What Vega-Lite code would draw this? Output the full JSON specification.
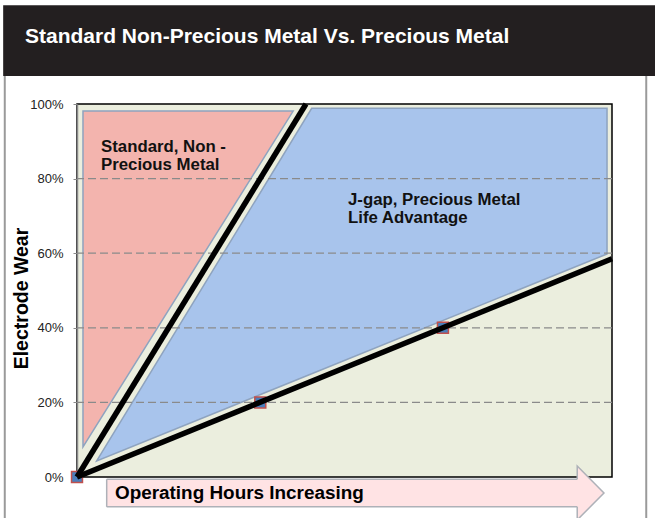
{
  "$schema": "https://vega.github.io/schema/vega-lite/v6.json",
  "width": 535,
  "height": 373,
  "autosize": {"type": "none"},
  "padding": {"left": 77, "top": 104, "right": 43, "bottom": 41},
  "background": "#ffffff",
  "config": {
    "view": {"fill": "#EBEEDE", "stroke": "#000000", "strokeWidth": 1.5},
    "font": "Liberation Sans",
    "axisY": {
      "labelExpr": "datum.value + '%'",
      "grid": false,
      "domain": true,
      "domainColor": "#8a8a8a",
      "domainWidth": 1.5,
      "ticks": true,
      "tickSize": 5,
      "tickColor": "#8a8a8a",
      "tickDash": [4, 2],
      "labelPadding": 9,
      "labelFontSize": 13,
      "labelColor": "#222222",
      "labelFont": "Liberation Sans",
      "titleFont": "Liberation Sans",
      "titleFontSize": 19.5,
      "titleFontWeight": "bold",
      "titleColor": "#000000",
      "titleAngle": -90,
      "titleBaseline": "alphabetic",
      "titleAlign": "center",
      "titleX": -50,
      "titleY": 194
    }
  },
  "datasets": {
    "grid": [{"v": 20}, {"v": 40}, {"v": 60}, {"v": 80}],
    "header": [{"x1": -13.8, "x2": 110, "y1": 107.5, "y2": 126.5}],
    "frame": [{"x": -13.5, "y1": 107.5, "y2": -12}, {"x": 106.4, "y1": 107.5, "y2": -12}],
    "pink": [
      {"x": 1.12, "top": 98.1, "bottom": 8.1},
      {"x": 40.4, "top": 98.1, "bottom": 98.1}
    ],
    "blue": [
      {"x": 3.68, "top": 4.3, "bottom": 4.3},
      {"x": 43.87, "top": 98.85, "bottom": 27.68},
      {"x": 99.07, "top": 98.85, "bottom": 59.8}
    ],
    "markers": [
      {"x": 0, "y": 0},
      {"x": 34.26, "y": 20},
      {"x": 68.4, "y": 40}
    ],
    "lines": [
      {"series": "standard", "x": 0, "y": 0},
      {"series": "standard", "x": 42.8, "y": 100},
      {"series": "precious", "x": 0, "y": 0},
      {"series": "precious", "x": 100, "y": 58.5}
    ],
    "arrowHead": [
      {"x": 93.5, "top": 2.95, "bottom": -11.5},
      {"x": 98.5, "top": -4.3, "bottom": -4.3}
    ],
    "arrowBody": [{"x1": 5.55, "x2": 93.7, "y1": -0.6, "y2": -8.0}],
    "arrowEdges": [
      {"x1": 5.55, "x2": 93.5, "y": -0.6},
      {"x1": 5.55, "x2": 93.5, "y": -8.0}
    ],
    "arrowLeft": [{"x": 5.55, "y1": -0.6, "y2": -8.0}],
    "labels": [
      {"text": "Standard, Non -", "x": 4.49, "y": 87.2},
      {"text": "Precious Metal", "x": 4.49, "y": 82.3},
      {"text": "J-gap, Precious Metal", "x": 50.65, "y": 72.9},
      {"text": "Life Advantage", "x": 50.65, "y": 68.1}
    ],
    "xlabel": [{"text": "Operating Hours Increasing", "x": 7.1, "y": -5.98}],
    "title": [{"text": "Standard Non-Precious Metal Vs. Precious Metal", "x": -9.72, "y": 116.4}]
  },
  "layer": [
    {
      "data": {"name": "header"},
      "mark": {"type": "rect", "color": "#231F20"},
      "encoding": {
        "x": {"field": "x1", "type": "quantitative", "scale": {"domain": [0, 100], "nice": false, "zero": false}, "axis": null},
        "x2": {"field": "x2"},
        "y": {"field": "y1", "type": "quantitative", "scale": {"domain": [0, 100], "nice": false, "zero": false}, "title": "Electrode Wear", "axis": {"values": [0, 20, 40, 60, 80, 100]}},
        "y2": {"field": "y2"}
      }
    },
    {
      "data": {"name": "frame"},
      "mark": {"type": "rule", "color": "#9a9a9a", "strokeWidth": 2},
      "encoding": {
        "x": {"field": "x", "type": "quantitative", "axis": null},
        "y": {"field": "y1", "type": "quantitative", "title": "Electrode Wear", "axis": {"values": [0, 20, 40, 60, 80, 100]}},
        "y2": {"field": "y2"}
      }
    },
    {
      "data": {"name": "pink"},
      "mark": {"type": "area", "fill": "#F3B4AE", "stroke": "#8EA3BF", "strokeWidth": 1.5, "opacity": 1},
      "encoding": {
        "x": {"field": "x", "type": "quantitative", "axis": null},
        "y": {"field": "top", "type": "quantitative", "title": "Electrode Wear", "axis": {"values": [0, 20, 40, 60, 80, 100]}},
        "y2": {"field": "bottom"}
      }
    },
    {
      "data": {"name": "blue"},
      "mark": {"type": "area", "fill": "#A8C4EC", "stroke": "#8EA3BF", "strokeWidth": 1.5, "opacity": 1},
      "encoding": {
        "x": {"field": "x", "type": "quantitative", "axis": null},
        "y": {"field": "top", "type": "quantitative", "title": "Electrode Wear", "axis": {"values": [0, 20, 40, 60, 80, 100]}},
        "y2": {"field": "bottom"}
      }
    },
    {
      "data": {"name": "grid"},
      "mark": {"type": "rule", "color": "#8a8a8a", "strokeWidth": 1.2, "strokeDash": [8, 4]},
      "encoding": {
        "y": {"field": "v", "type": "quantitative", "title": "Electrode Wear", "axis": {"values": [0, 20, 40, 60, 80, 100]}}
      }
    },
    {
      "data": {"name": "markers"},
      "mark": {"type": "point", "shape": "square", "filled": true, "fill": "#4A7EBB", "stroke": "#C0504D", "strokeWidth": 1.5, "size": 120, "opacity": 1},
      "encoding": {
        "x": {"field": "x", "type": "quantitative", "axis": null},
        "y": {"field": "y", "type": "quantitative", "title": "Electrode Wear", "axis": {"values": [0, 20, 40, 60, 80, 100]}}
      }
    },
    {
      "data": {"name": "lines"},
      "mark": {"type": "line", "color": "#000000", "strokeWidth": 5.5, "strokeCap": "butt"},
      "encoding": {
        "x": {"field": "x", "type": "quantitative", "axis": null},
        "y": {"field": "y", "type": "quantitative", "title": "Electrode Wear", "axis": {"values": [0, 20, 40, 60, 80, 100]}},
        "detail": {"field": "series"}
      }
    },
    {
      "data": {"name": "arrowHead"},
      "mark": {"type": "area", "fill": "#FFE3E4", "stroke": "#AEB1B8", "strokeWidth": 1.5, "opacity": 1},
      "encoding": {
        "x": {"field": "x", "type": "quantitative", "axis": null},
        "y": {"field": "top", "type": "quantitative", "title": "Electrode Wear", "axis": {"values": [0, 20, 40, 60, 80, 100]}},
        "y2": {"field": "bottom"}
      }
    },
    {
      "data": {"name": "arrowBody"},
      "mark": {"type": "rect", "fill": "#FFE3E4"},
      "encoding": {
        "x": {"field": "x1", "type": "quantitative", "axis": null},
        "x2": {"field": "x2"},
        "y": {"field": "y1", "type": "quantitative", "title": "Electrode Wear", "axis": {"values": [0, 20, 40, 60, 80, 100]}},
        "y2": {"field": "y2"}
      }
    },
    {
      "data": {"name": "arrowEdges"},
      "mark": {"type": "rule", "color": "#AEB1B8", "strokeWidth": 1.5},
      "encoding": {
        "x": {"field": "x1", "type": "quantitative", "axis": null},
        "x2": {"field": "x2"},
        "y": {"field": "y", "type": "quantitative", "title": "Electrode Wear", "axis": {"values": [0, 20, 40, 60, 80, 100]}}
      }
    },
    {
      "data": {"name": "arrowLeft"},
      "mark": {"type": "rule", "color": "#AEB1B8", "strokeWidth": 1.5},
      "encoding": {
        "x": {"field": "x", "type": "quantitative", "axis": null},
        "y": {"field": "y1", "type": "quantitative", "title": "Electrode Wear", "axis": {"values": [0, 20, 40, 60, 80, 100]}},
        "y2": {"field": "y2"}
      }
    },
    {
      "data": {"name": "labels"},
      "mark": {"type": "text", "align": "left", "baseline": "alphabetic", "font": "Liberation Sans", "fontWeight": "bold", "fontSize": 16.8, "color": "#111111"},
      "encoding": {
        "x": {"field": "x", "type": "quantitative", "axis": null},
        "y": {"field": "y", "type": "quantitative", "title": "Electrode Wear", "axis": {"values": [0, 20, 40, 60, 80, 100]}},
        "text": {"field": "text"}
      }
    },
    {
      "data": {"name": "xlabel"},
      "mark": {"type": "text", "align": "left", "baseline": "alphabetic", "font": "Liberation Sans", "fontWeight": "bold", "fontSize": 18.9, "color": "#000000"},
      "encoding": {
        "x": {"field": "x", "type": "quantitative", "axis": null},
        "y": {"field": "y", "type": "quantitative", "title": "Electrode Wear", "axis": {"values": [0, 20, 40, 60, 80, 100]}},
        "text": {"field": "text"}
      }
    },
    {
      "data": {"name": "title"},
      "mark": {"type": "text", "align": "left", "baseline": "alphabetic", "font": "Liberation Sans", "fontWeight": "bold", "fontSize": 21, "color": "#ffffff"},
      "encoding": {
        "x": {"field": "x", "type": "quantitative", "axis": null},
        "y": {"field": "y", "type": "quantitative", "title": "Electrode Wear", "axis": {"values": [0, 20, 40, 60, 80, 100]}},
        "text": {"field": "text"}
      }
    }
  ]
}
